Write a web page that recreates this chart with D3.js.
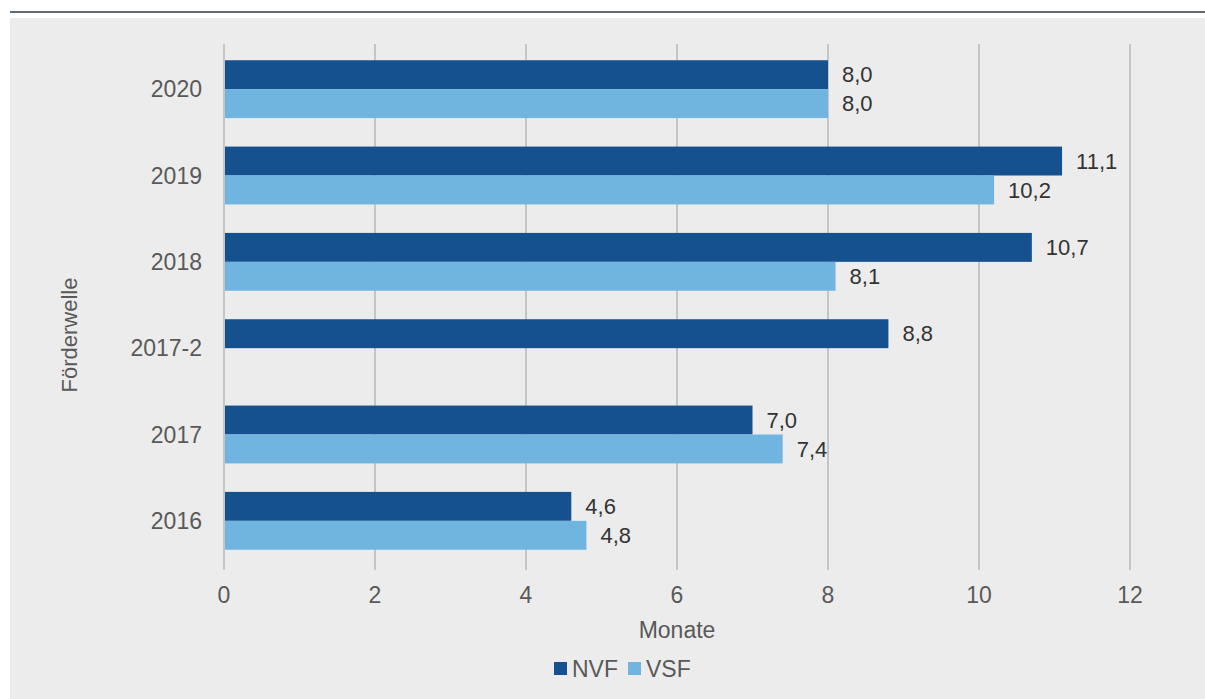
<!DOCTYPE html>
<html>
<head>
<meta charset="utf-8">
<script src="https://cdn.jsdelivr.net/npm/d3@7"></script>
<style>
  body { margin: 0; background: #fff; }
  svg { display: block; font-family: "Liberation Sans", Arial, sans-serif; }
</style>
</head>
<body>
<svg id="chart" width="1205" height="699"></svg>
<script>
const categories = ["2020", "2019", "2018", "2017-2", "2017", "2016"];
const seriesNames = ["NVF", "VSF"];
const nvfValues = [8.0, 11.1, 10.7, 8.8, 7.0, 4.6];
const vsfValues = [8.0, 10.2, 8.1, null, 7.4, 4.8];
const xTicks = [0, 2, 4, 6, 8, 10, 12];
const colors = ["#15508f", "#6fb5e0"];

const margin = {top: 46, left: 224, right: 75, bottom: 135};
const width = 1205 - margin.left - margin.right;
const height = 699 - margin.top - margin.bottom;

const svg = d3.select("#chart");

// panel + top rule
svg.append("rect")
    .attr("x", 10).attr("y", 18)
    .attr("width", 1195).attr("height", 681)
    .attr("fill", "#ececec");
svg.append("line")
    .attr("x1", 10).attr("x2", 1205)
    .attr("y1", 12).attr("y2", 12)
    .attr("stroke", "#5f6a72").attr("stroke-width", 2);

const chart = svg.append("g")
    .attr("transform", `translate(${ margin.left },${ margin.top })`);

const x = d3.scaleLinear().domain([0, 12]).range([0, width]);
const y = d3.scaleBand().domain(categories).range([0, height]).paddingInner(0.33).paddingOuter(0.165);
const sub = d3.scaleBand().domain(seriesNames).range([0, y.bandwidth()]);

// grid
chart.selectAll(".grid")
    .data(xTicks)
  .enter().append("line")
    .attr("x1", (d) => x(d)).attr("x2", (d) => x(d))
    .attr("y1", -2).attr("y2", height + 6)
    .attr("stroke", "#c3c6c9").attr("stroke-width", 2);

// tick labels
chart.selectAll(".tick-label")
    .data(xTicks)
  .enter().append("text")
    .attr("x", (d) => x(d))
    .attr("y", 603 - margin.top)
    .attr("text-anchor", "middle")
    .attr("font-size", 23)
    .attr("fill", "#595959")
    .text((d) => d);

// category labels
chart.selectAll(".cat-label")
    .data(categories)
  .enter().append("text")
    .attr("x", -22)
    .attr("y", (d) => y(d) + y.bandwidth() / 2)
    .attr("dy", "0.35em")
    .attr("text-anchor", "end")
    .attr("font-size", 23)
    .attr("fill", "#595959")
    .text((d) => d);

const rows = [];
categories.forEach((c, i) => {
  rows.push({cat: c, series: "NVF", value: nvfValues[i], color: colors[0]});
  if (vsfValues[i] !== null) rows.push({cat: c, series: "VSF", value: vsfValues[i], color: colors[1]});
});

const bar = chart.selectAll(".bar")
    .data(rows)
  .enter().append("g")
    .attr("transform", (d) => `translate(0,${ y(d.cat) + sub(d.series) })`);

bar.append("rect")
    .attr("x", 1)
    .attr("width", (d) => x(d.value) - 1)
    .attr("height", sub.bandwidth())
    .attr("fill", (d) => d.color);

bar.append("text")
    .attr("x", (d) => x(d.value) + 14)
    .attr("y", sub.bandwidth() / 2)
    .attr("dy", "0.35em")
    .attr("font-size", 22)
    .attr("fill", "#333")
    .text((d) => d.value.toFixed(1).replace(".", ","));

// axis titles
svg.append("text")
    .attr("x", margin.left + x(6))
    .attr("y", 638)
    .attr("text-anchor", "middle")
    .attr("font-size", 23)
    .attr("fill", "#595959")
    .text("Monate");

svg.append("text")
    .attr("transform", "translate(77,335) rotate(-90)")
    .attr("text-anchor", "middle")
    .attr("font-size", 22)
    .attr("fill", "#595959")
    .text("Förderwelle");

// legend
const legend = svg.append("g").attr("transform", "translate(554,668)");
const items = legend.selectAll(".item")
    .data(seriesNames)
  .enter().append("g")
    .attr("transform", (d, i) => `translate(${ i * 74 },0)`);
items.append("rect")
    .attr("y", -6).attr("width", 13).attr("height", 13)
    .attr("fill", (d, i) => colors[i]);
items.append("text")
    .attr("x", 18)
    .attr("y", 9)
    .attr("font-size", 23)
    .attr("fill", "#595959")
    .text((d) => d);
</script>
</body>
</html>
